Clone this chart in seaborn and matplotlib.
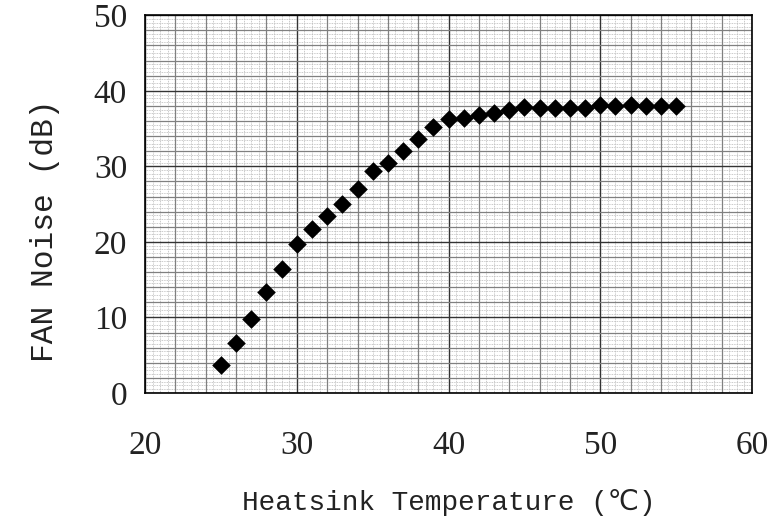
import numpy as np
import pandas as pd
import matplotlib
matplotlib.use("Agg")
import matplotlib.pyplot as plt
from matplotlib.ticker import MultipleLocator
import seaborn as sns

# heatsink temperature (C) and measured fan noise (dB)
temperature = [25, 26, 27, 28, 29, 30, 31, 32, 33, 34, 35, 36, 37, 38, 39, 40,
               41, 42, 43, 44, 45, 46, 47, 48, 49, 50, 51, 52, 53, 54, 55]
noise_db = [3.7, 6.6, 9.8, 13.4, 16.4, 19.7, 21.7, 23.4, 25.0, 27.0, 29.4, 30.4,
            32.0, 33.6, 35.2, 36.2, 36.4, 36.8, 37.0, 37.4, 37.9, 37.7, 37.7,
            37.7, 37.7, 38.1, 38.0, 38.1, 38.0, 38.0, 38.0]

df = pd.DataFrame({"temp": temperature, "noise": noise_db})

sns.set_style("white")
fig = plt.figure(figsize=(7.68, 5.24), dpi=100)
ax = fig.add_axes([0.189, 0.25, 0.79, 0.721])

ax.set_xlim(20, 60)
ax.set_ylim(0, 50)

# graph-paper look: fine dotted grid + coarser gray grid
for v in np.arange(20, 60.01, 0.5):
    ax.axvline(v, color="#b8b8b8", lw=0.6, ls=(0, (1, 1)), zorder=0)
for v in np.arange(0, 50.01, 0.5):
    ax.axhline(v, color="#b8b8b8", lw=0.6, ls=(0, (1, 1)), zorder=0)
ax.xaxis.set_minor_locator(MultipleLocator(2))
ax.yaxis.set_minor_locator(MultipleLocator(2))
ax.grid(which="minor", color="#808080", lw=0.9, zorder=1)
ax.grid(which="major", color="#333333", lw=1.0, zorder=1)

sns.scatterplot(data=df, x="temp", y="noise", marker="D", s=90,
                color="black", edgecolor="black", linewidth=0, ax=ax, zorder=3)

ax.xaxis.set_major_locator(MultipleLocator(10))
ax.yaxis.set_major_locator(MultipleLocator(10))
ax.tick_params(which="both", length=0)
ax.tick_params(axis="x", pad=27)
ax.tick_params(axis="y", pad=13)
for lab in ax.get_xticklabels() + ax.get_yticklabels():
    lab.set_family("Liberation Serif")
    lab.set_fontsize(24)
    lab.set_color("#222222")

for sp in ax.spines.values():
    sp.set_color("black")
    sp.set_linewidth(1.2)

ax.set_xlabel("Heatsink Temperature (℃)", family=["Liberation Mono", "DejaVu Sans"],
              fontsize=20, labelpad=20, color="#222222")
ax.set_ylabel("FAN Noise (dB)", family=["Liberation Mono", "DejaVu Sans"],
              fontsize=22.5, color="#222222")
ax.yaxis.set_label_coords(-0.14, 0.43)

fig.savefig("out.png", dpi=100)
